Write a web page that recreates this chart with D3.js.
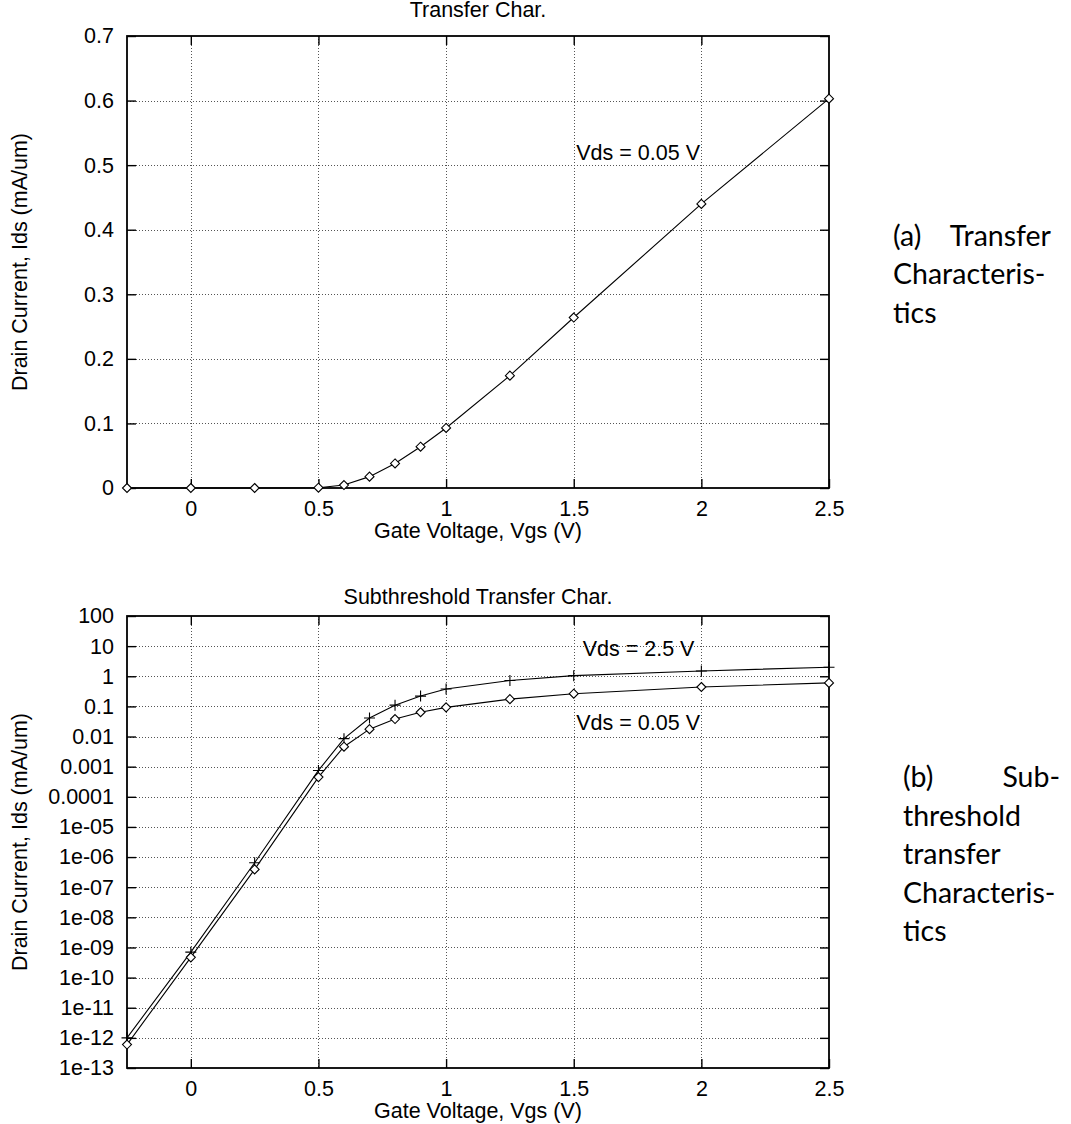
<!DOCTYPE html>
<html>
<head>
<meta charset="utf-8">
<script src="https://cdn.jsdelivr.net/npm/d3@7"></script>
<style>
  body { margin: 0; background: #fff; }
  svg { display: block; }
  .chart text { font-family: "Liberation Sans", Arial, Helvetica, sans-serif; fill: #000; }
  .caption text { font-family: Lato, "Open Sans", sans-serif; fill: #000; }
</style>
</head>
<body>
<svg id="fig" width="1071" height="1124"></svg>
<script>
// Gate voltage sweep points (V)
const vgs = [-0.25, 0, 0.25, 0.5, 0.6, 0.7, 0.8, 0.9, 1.0, 1.25, 1.5, 2.0, 2.5];
// Drain current (mA/um) at Vds = 0.05 V
const idsLow = [6e-13, 4.7e-10, 3.9e-7, 4.5e-4, 4.6e-3, 0.0176, 0.038, 0.064, 0.093, 0.174, 0.264, 0.44, 0.603];
// Drain current (mA/um) at Vds = 2.5 V
const idsHigh = [1e-12, 7e-10, 6.5e-7, 7.5e-4, 8.5e-3, 0.041, 0.11, 0.22, 0.38, 0.72, 1.05, 1.5, 2.0];

// Axis ticks
const xTicks = [0, 0.5, 1, 1.5, 2, 2.5];
const linTicks = [0, 0.1, 0.2, 0.3, 0.4, 0.5, 0.6, 0.7];
const linTickLabels = ["0", "0.1", "0.2", "0.3", "0.4", "0.5", "0.6", "0.7"];
const logTicks = [100, 10, 1, 0.1, 0.01, 0.001, 1e-4, 1e-5, 1e-6, 1e-7, 1e-8, 1e-9, 1e-10, 1e-11, 1e-12, 1e-13];
const logTickLabels = ["100", "10", "1", "0.1", "0.01", "0.001", "0.0001", "1e-05", "1e-06",
  "1e-07", "1e-08", "1e-09", "1e-10", "1e-11", "1e-12", "1e-13"];

// Captions beside each panel
const captionA = [["(a)", "Transfer"], ["Characteris-"], ["tics"]];
const captionB = [["(b)", "Sub-"], ["threshold"], ["transfer"], ["Characteris-"], ["tics"]];

const svg = d3.select("#fig");
svg.append("rect").attr("width", 1071).attr("height", 1124).attr("fill", "#fff");

const FONT = 21.5;
const left = 127, right = 829;
const x = d3.scaleLinear().domain([-0.25, 2.5]).range([left, right]);

function diamond(s) {
  return `M0,${-s}L${s},0L0,${s}L${-s},0Z`;
}
function plus(s) {
  return `M${-s},0H${s}M0,${-s}V${s}`;
}

function panel(opts) {
  const { y, top, bottom, yTicks, yLabels, title, series, notes } = opts;
  const g = svg.append("g").attr("class", "chart");

  // dotted grid
  const grid = g.append("g").attr("stroke", "#555").attr("stroke-width", 1)
    .attr("stroke-dasharray", "1,2").attr("fill", "none");
  grid.selectAll("line.h").data(yTicks.slice(1, -1)).join("line")
    .attr("x1", left).attr("x2", right)
    .attr("y1", d => Math.round(y(d)) + 0.5).attr("y2", d => Math.round(y(d)) + 0.5);
  grid.selectAll("line.v").data(xTicks.slice(0, -1)).join("line")
    .attr("y1", top).attr("y2", bottom)
    .attr("x1", d => Math.round(x(d)) + 0.5).attr("x2", d => Math.round(x(d)) + 0.5);

  // axes with inward ticks
  const fmt = (d) => yLabels[yTicks.indexOf(d)];
  const axL = g.append("g").attr("transform", `translate(${left},0)`)
    .call(d3.axisLeft(y).tickValues(yTicks).tickFormat(fmt).tickSize(-9).tickPadding(13));
  const axR = g.append("g").attr("transform", `translate(${right},0)`)
    .call(d3.axisRight(y).tickValues(yTicks).tickFormat("").tickSize(-9));
  const axB = g.append("g").attr("transform", `translate(0,${bottom})`)
    .call(d3.axisBottom(x).tickValues(xTicks).tickFormat(d3.format("")).tickSize(-9).tickPadding(13));
  const axT = g.append("g").attr("transform", `translate(0,${top})`)
    .call(d3.axisTop(x).tickValues(xTicks.slice(0, -1)).tickFormat("").tickSize(-9));
  [axL, axR, axB, axT].forEach(a => {
    a.select(".domain").remove();
    a.selectAll(".tick line").attr("stroke", "#000").attr("stroke-width", 1.4);
    a.selectAll("text").attr("font-size", FONT);
    a.attr("font-family", null).attr("font-size", null);
  });

  // frame
  g.append("rect").attr("x", left).attr("y", top)
    .attr("width", right - left).attr("height", bottom - top)
    .attr("fill", "none").attr("stroke", "#000").attr("stroke-width", 1.8);

  // titles and axis labels
  g.append("text").attr("x", (left + right) / 2).attr("y", top - title.gap)
    .attr("text-anchor", "middle").attr("font-size", FONT).text(title.text);
  g.append("text").attr("x", (left + right) / 2).attr("y", bottom + 50)
    .attr("text-anchor", "middle").attr("font-size", FONT).text("Gate Voltage, Vgs (V)");
  g.append("text")
    .attr("transform", `translate(27,${(top + bottom) / 2}) rotate(-90)`)
    .attr("text-anchor", "middle").attr("font-size", FONT)
    .text("Drain Current, Ids (mA/um)");

  // data curves with markers
  const line = d3.line().x(d => x(d[0])).y(d => y(d[1]));
  series.forEach(s => {
    const pts = vgs.map((v, i) => [v, s.values[i]]);
    g.append("path").datum(pts).attr("d", line)
      .attr("fill", "none").attr("stroke", "#000").attr("stroke-width", 1.1);
    g.selectAll(null).data(pts).join("path")
      .attr("transform", d => `translate(${x(d[0])},${y(d[1])})`)
      .attr("d", s.marker === "diamond" ? diamond(4.5) : plus(5.5))
      .attr("fill", s.marker === "diamond" ? "#fff" : "none")
      .attr("stroke", "#000").attr("stroke-width", 1.1);
  });

  // curve annotations
  notes.forEach(n => {
    g.append("text").attr("x", x(n.vgs)).attr("y", y(n.ids))
      .attr("dy", "0.35em").attr("font-size", FONT).text(n.text);
  });
}

// (a) linear transfer characteristic
panel({
  y: d3.scaleLinear().domain([0, 0.7]).range([488, 36]),
  top: 36, bottom: 488,
  yTicks: linTicks, yLabels: linTickLabels,
  title: { text: "Transfer Char.", gap: 19 },
  series: [{ values: idsLow, marker: "diamond" }],
  notes: [{ vgs: 1.51, ids: 0.52, text: "Vds = 0.05 V" }]
});

// (b) subthreshold (log) transfer characteristic
panel({
  y: d3.scaleLog().domain([1e-13, 100]).range([1068, 616]),
  top: 616, bottom: 1068,
  yTicks: logTicks.slice().reverse(), yLabels: logTickLabels.slice().reverse(),
  title: { text: "Subthreshold Transfer Char.", gap: 12.5 },
  series: [
    { values: idsHigh, marker: "plus" },
    { values: idsLow, marker: "diamond" }
  ],
  notes: [
    { vgs: 1.535, ids: 8.5, text: "Vds = 2.5 V" },
    { vgs: 1.51, ids: 0.029, text: "Vds = 0.05 V" }
  ]
});

// side captions, justified like a narrow text column
function caption(lines, x0, x1, base, step) {
  const g = svg.append("g").attr("class", "caption");
  lines.forEach((words, i) => {
    const yy = base + i * step;
    g.append("text").attr("x", x0).attr("y", yy).attr("font-size", 28.5).text(words[0]);
    if (words.length > 1) {
      g.append("text").attr("x", x1).attr("y", yy).attr("text-anchor", "end")
        .attr("font-size", 28.5).text(words[1]);
    }
  });
}
caption(captionA, 893, 1051, 246, 38.3);
caption(captionB, 903, 1060, 787, 38.6);
</script>
</body>
</html>
